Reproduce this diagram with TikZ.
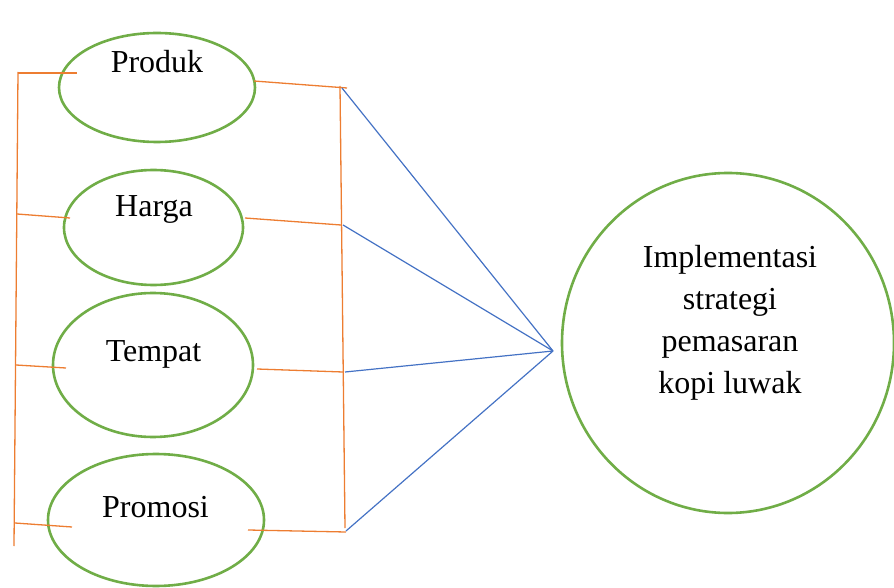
\documentclass[tikz,border=0pt]{standalone}
\usepackage{fontspec}
\setmainfont{Liberation Serif}
\usepackage{tikz}
\usetikzlibrary{
  calc,
  positioning,
  shapes.geometric
}
\definecolor{ovalgreen}{HTML}{70AD47}
\definecolor{tieorange}{HTML}{ED7D31}
\definecolor{linkblue}{HTML}{4472C4}

\begin{document}
\begin{tikzpicture}[x=0.5pt, y=-0.5pt]
  \tikzset{
    oval/.style={
      ellipse, draw=ovalgreen, line width=1.3pt, inner sep=0pt
    },
    word/.style={
      anchor=base, font=\fontsize{16}{21}\selectfont
    },
    tie/.style={draw=tieorange, line width=0.65pt},
    link/.style={draw=linkblue, line width=0.6pt},
    % every node/.style={font=\large}
  }
\useasboundingbox (0,0) rectangle (894,588);

\node[oval, minimum width=98pt, minimum height=54.5pt] (produk) at (157,87.5) {};
\node[oval, minimum width=89.5pt, minimum height=57.5pt] (harga) at (153.5,227.5) {};
\node[oval, minimum width=100pt, minimum height=72pt] (tempat) at (153,365) {};
\node[oval, minimum width=108pt, minimum height=66pt] (promosi) at (156,520) {};
\node[oval, minimum width=166pt, minimum height=170pt] (impl) at (728,343) {};

\node[word, name=tproduk] at (157,73) {Produk};
\node[word, name=tharga] at (154,217) {Harga};
\node[word, name=ttempat] at (153.5,361) {Tempat};
\node[word, name=tpromosi] at (155.5,517) {Promosi};
\node[font=\fontsize{16}{21}\selectfont, align=center, name=timpl] at (730,323)
{Implementasi\\strategi\\pemasaran\\kopi luwak};

% left bracket
\coordinate (l1) at (18,73);
\coordinate (l2) at (17,214);
\coordinate (l3) at (16,365);
\coordinate (l4) at (15,523);
\coordinate (ltop) at (18,72);
\coordinate (lbot) at (14,546);
\coordinate (pin1) at (77,73);
\coordinate (pin2) at (70,218);
\coordinate (pin3) at (66,368);
\coordinate (pin4) at (72,527);
\draw[tie] (ltop)--(lbot);
\draw[tie] (l1)--(pin1);
\draw[tie] (l2)--(pin2);
\draw[tie] (l3)--(pin3);
\draw[tie] (l4)--(pin4);

% right bracket
\coordinate (rtop) at (340,86);
\coordinate (rbot) at (345,528);
\coordinate (pout1) at (254,81);
\coordinate (pout2) at (245,218);
\coordinate (pout3) at (257,369);
\coordinate (pout4) at (248,530);
\coordinate (r1) at (347,88);
\coordinate (r2) at (341,225);
\coordinate (r3) at (343,372);
\coordinate (r4) at (346,532);
\draw[tie] (rtop)--(rbot);
\draw[tie] (pout1)--(r1);
\draw[tie] (pout2)--(r2);
\draw[tie] (pout3)--(r3);
\draw[tie] (pout4)--(r4);

% links to the circle
\coordinate (hub) at (553,351);
\coordinate (b1) at (342,88);
\coordinate (b2) at (343,225);
\coordinate (b3) at (345,372);
\coordinate (b4) at (346,531);
\draw[link] (b1)--(hub);
\draw[link] (b2)--(hub);
\draw[link] (b3)--(hub);
\draw[link] (b4)--(hub);

\end{tikzpicture}
\end{document}
